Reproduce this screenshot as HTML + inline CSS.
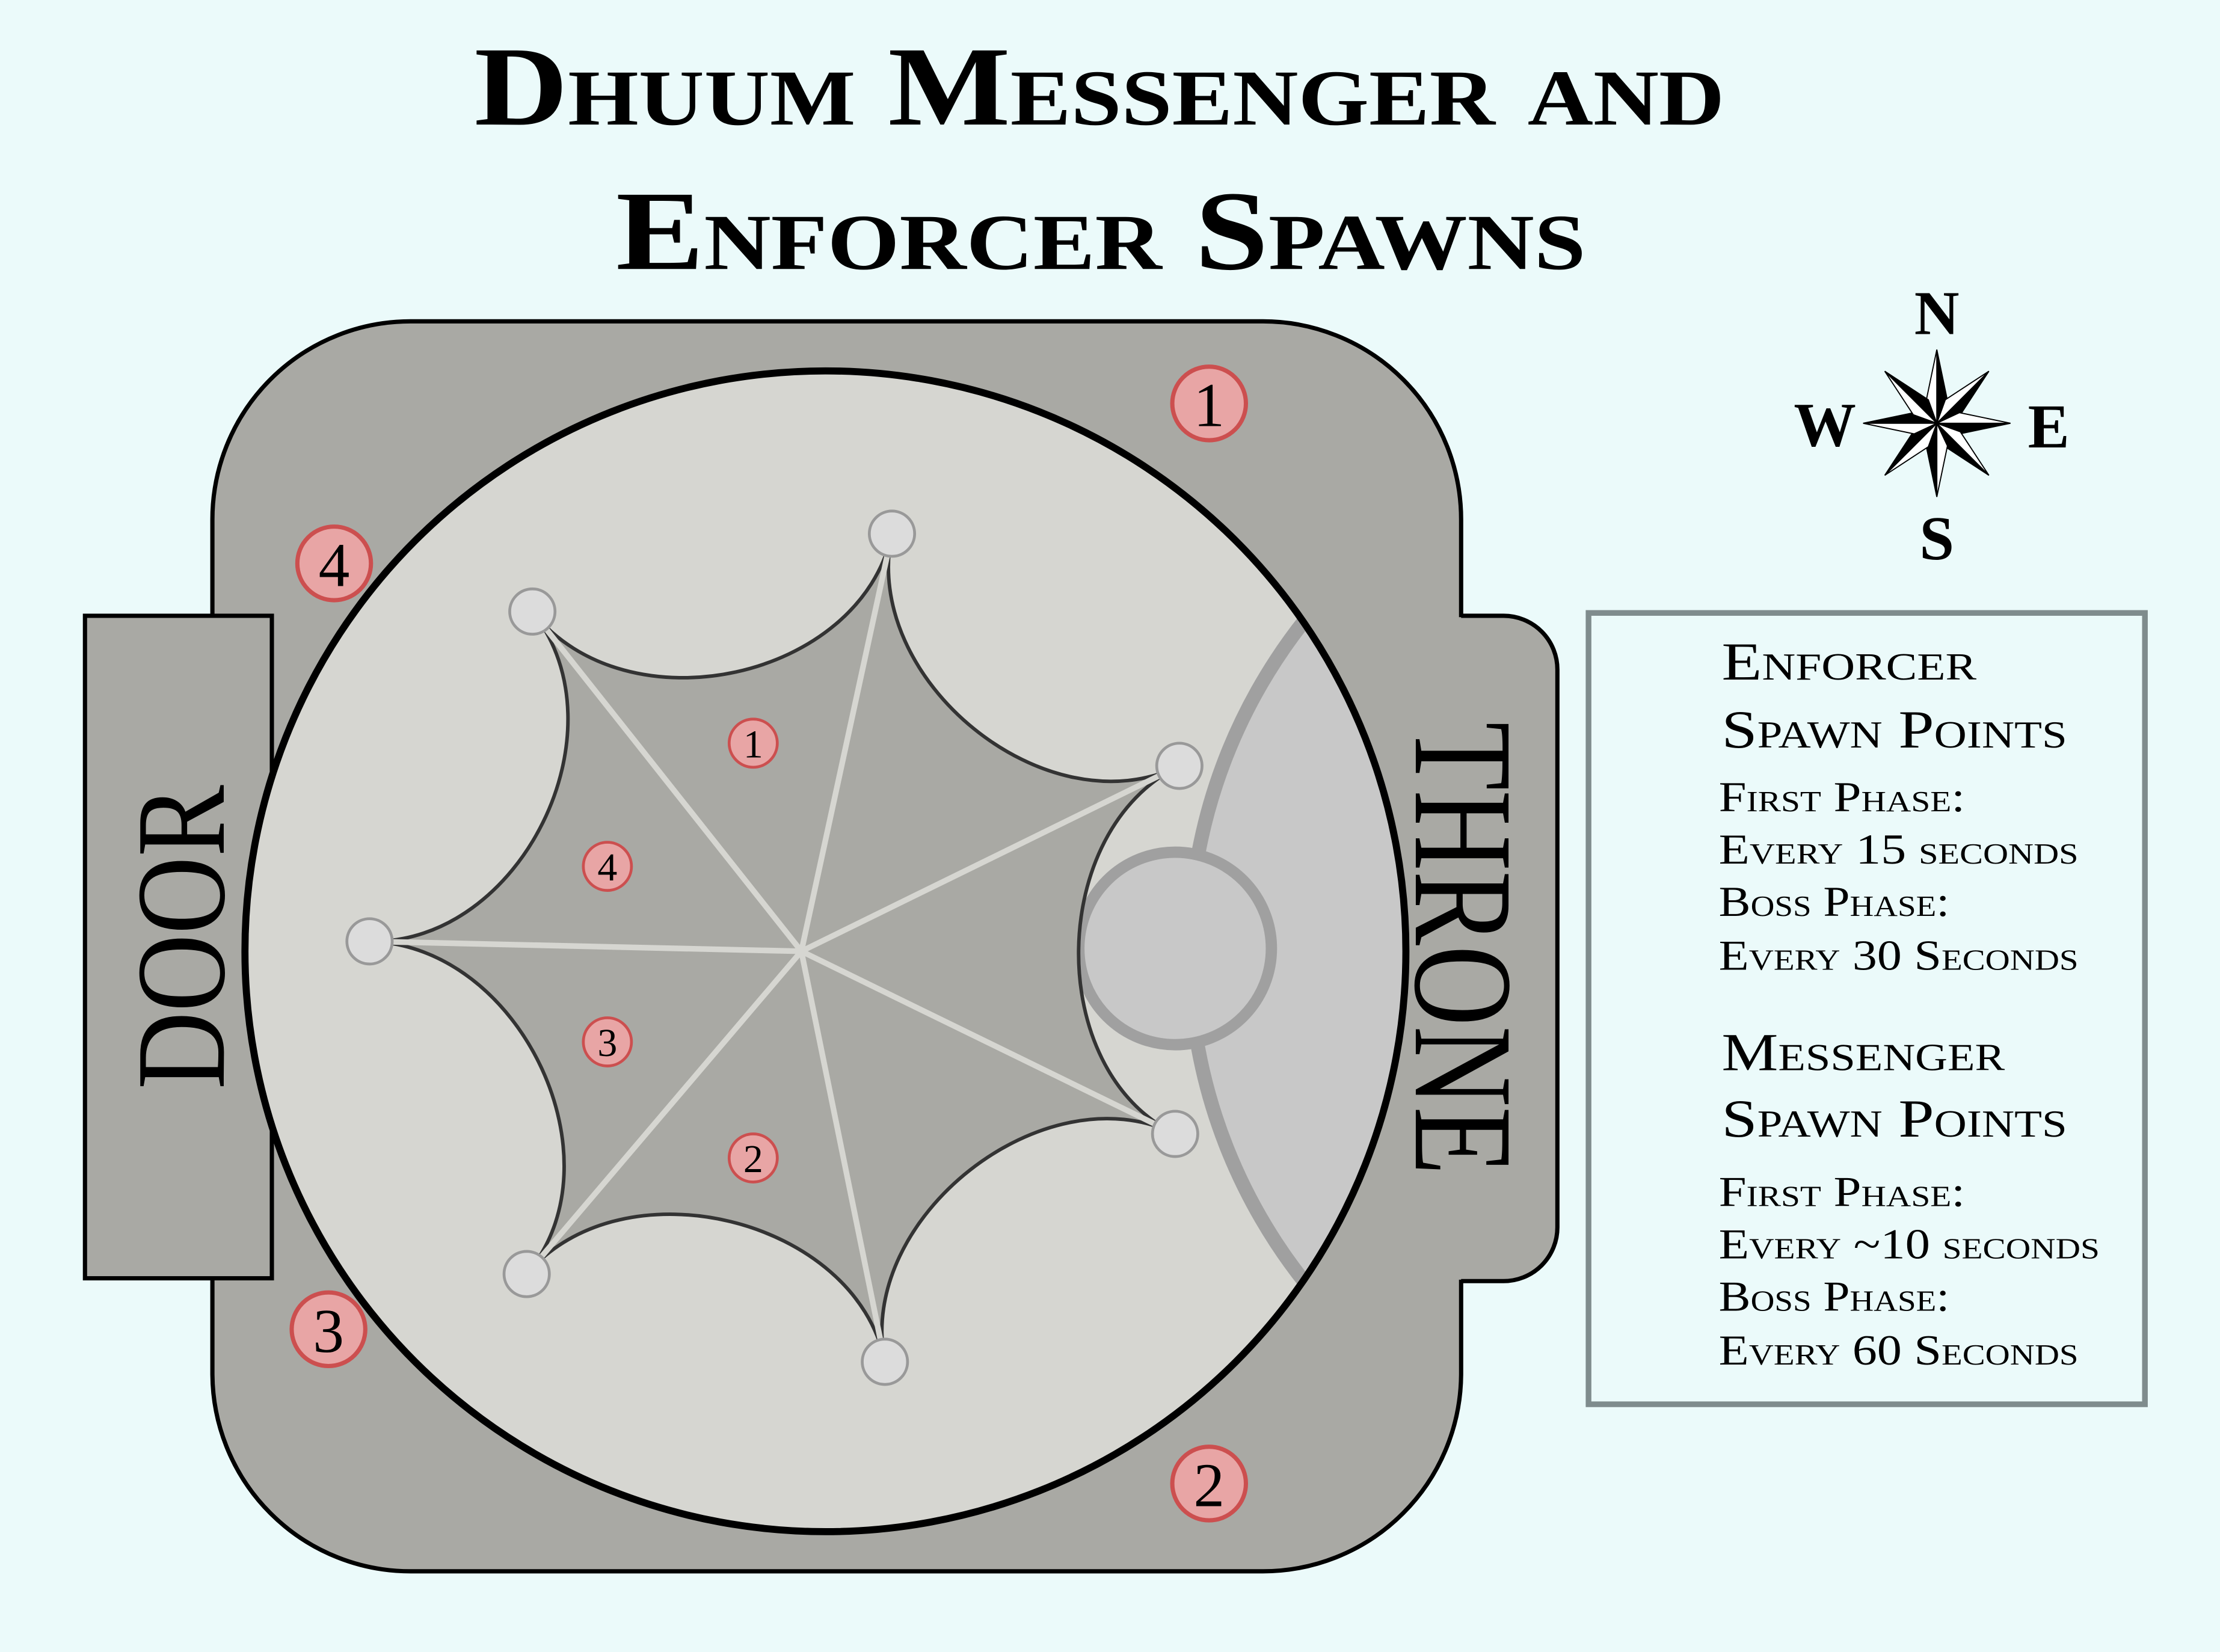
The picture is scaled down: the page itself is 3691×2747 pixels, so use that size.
<!DOCTYPE html>
<html><head><meta charset="utf-8"><style>
html,body{margin:0;padding:0;background:#ebfafa;}
svg{display:block;}
text{font-family:"Liberation Serif",serif;font-variant:small-caps;fill:#000;}
</style></head><body>
<svg width="3691" height="2747" viewBox="0 0 1568 1167" xmlns="http://www.w3.org/2000/svg">
<rect width="1568" height="1167" fill="#ebfafa"/>
<text x="335" y="88" font-size="80" font-weight="bold" textLength="883" lengthAdjust="spacingAndGlyphs">Dhuum Messenger and</text>
<text x="435" y="190" font-size="80" font-weight="bold" textLength="685" lengthAdjust="spacingAndGlyphs">Enforcer Spawns</text>

<rect x="150" y="227" width="882" height="883" rx="140" fill="#a9a9a4" stroke="#000" stroke-width="3"/>
<rect x="60" y="435" width="132" height="468" fill="#a9a9a4" stroke="#000" stroke-width="3"/>
<path d="M1028,436 H1062 A38,38 0 0 1 1100,474 V866 A38,38 0 0 1 1062,904 H1028 Z" fill="#a9a9a4"/>
<path d="M1032,435 H1062 A38,38 0 0 1 1100,473 V867 A38,38 0 0 1 1062,905 H1032" fill="none" stroke="#000" stroke-width="3"/>
<text transform="translate(158,662) rotate(-90)" font-size="90" text-anchor="middle" textLength="215" lengthAdjust="spacingAndGlyphs" style="font-variant:normal">DOOR</text>
<text transform="translate(1000,670) rotate(90)" font-size="100" text-anchor="middle" textLength="320" lengthAdjust="spacingAndGlyphs" style="font-variant:normal">THRONE</text>

<defs><clipPath id="cc"><circle cx="583" cy="672" r="410"/></clipPath></defs>
<circle cx="583" cy="672" r="410" fill="#d6d6d1"/>
<g clip-path="url(#cc)">
<circle cx="1216" cy="672" r="376" fill="#c8c8c8" stroke="#a0a0a0" stroke-width="10"/>
</g>
<circle cx="583" cy="672" r="410" fill="none" stroke="#000" stroke-width="5"/>
<circle cx="830" cy="670" r="68" fill="#c8c8c8" stroke="#a0a0a0" stroke-width="8"/>

<path d="M376,432 C442.5,516 607.6,480.3 630,377 C607.6,480.3 739.6,586.9 833,541 C739.6,586.9 737.6,755.9 830,801 C737.6,755.9 604.4,860.5 625,962 C604.4,860.5 439.9,820.2 372,900 C439.9,820.2 367.8,667.5 261,665 C367.8,667.5 442.5,516 376,432 Z" fill="#a9a9a4" stroke="#333" stroke-width="2.5" stroke-linejoin="round"/>
<g stroke="#d6d6d1" stroke-width="4">
<line x1="566" y1="672" x2="376" y2="432"/><line x1="566" y1="672" x2="630" y2="377"/>
<line x1="566" y1="672" x2="833" y2="541"/><line x1="566" y1="672" x2="830" y2="801"/>
<line x1="566" y1="672" x2="625" y2="962"/><line x1="566" y1="672" x2="372" y2="900"/>
<line x1="566" y1="672" x2="261" y2="665"/>
</g>
<g fill="#dcdcdc" stroke="#999" stroke-width="2">
<circle cx="376" cy="432" r="16"/><circle cx="630" cy="377" r="16"/><circle cx="833" cy="541" r="16"/>
<circle cx="830" cy="801" r="16"/><circle cx="625" cy="962" r="16"/><circle cx="372" cy="900" r="16"/>
<circle cx="261" cy="665" r="16"/>
</g>

<g fill="#e8a5a5" stroke="#cc4f4f" stroke-width="3">
<circle cx="854" cy="285" r="26"/><circle cx="236" cy="398" r="26"/>
<circle cx="232" cy="939" r="26"/><circle cx="854" cy="1048" r="26"/>
<circle cx="1166" cy="489" r="27"/>
</g>
<g fill="#e8a5a5" stroke="#cc4f4f" stroke-width="2">
<circle cx="532" cy="525" r="17"/><circle cx="429" cy="612" r="17"/>
<circle cx="429" cy="736" r="17"/><circle cx="532" cy="818" r="17"/>
<circle cx="1166" cy="766" r="17"/>
</g>
<g font-size="44" text-anchor="middle">
<text x="854" y="301">1</text><text x="236" y="414">4</text>
<text x="232" y="955">3</text><text x="854" y="1064">2</text>
</g>
<g font-size="28" text-anchor="middle">
<text x="532" y="535">1</text><text x="429" y="622">4</text>
<text x="429" y="746">3</text><text x="532" y="828">2</text>
</g>

<rect x="1122" y="433" width="393" height="559" fill="#ebfafa" stroke="#7f8c8d" stroke-width="4"/>
<g font-size="38">
<text x="1216" y="480" textLength="180" lengthAdjust="spacingAndGlyphs">Enforcer</text>
<text x="1216" y="528" textLength="244" lengthAdjust="spacingAndGlyphs">Spawn Points</text>
<text x="1216" y="756" textLength="200" lengthAdjust="spacingAndGlyphs">Messenger</text>
<text x="1216" y="803" textLength="244" lengthAdjust="spacingAndGlyphs">Spawn Points</text>
</g>
<g font-size="30">
<text x="1214" y="573" textLength="174" lengthAdjust="spacingAndGlyphs">First Phase:</text>
<text x="1214" y="610" textLength="254" lengthAdjust="spacingAndGlyphs">Every 15 seconds</text>
<text x="1214" y="647" textLength="163" lengthAdjust="spacingAndGlyphs">Boss Phase:</text>
<text x="1214" y="685" textLength="254" lengthAdjust="spacingAndGlyphs">Every 30 Seconds</text>
<text x="1214" y="852" textLength="174" lengthAdjust="spacingAndGlyphs">First Phase:</text>
<text x="1214" y="889" textLength="269" lengthAdjust="spacingAndGlyphs">Every ~10 seconds</text>
<text x="1214" y="926" textLength="163" lengthAdjust="spacingAndGlyphs">Boss Phase:</text>
<text x="1214" y="964" textLength="254" lengthAdjust="spacingAndGlyphs">Every 60 Seconds</text>
</g>

<g transform="translate(1368,299)" stroke="#000" stroke-width="0.8" stroke-linejoin="miter">
<g id="arm">
<polygon points="0,-52 0,0 7.5,-16" fill="#000"/>
<polygon points="0,-52 0,0 -7.5,-16" fill="#fff"/>
</g>
<use href="#arm" transform="rotate(45)"/><use href="#arm" transform="rotate(90)"/>
<use href="#arm" transform="rotate(135)"/><use href="#arm" transform="rotate(180)"/>
<use href="#arm" transform="rotate(225)"/><use href="#arm" transform="rotate(270)"/>
<use href="#arm" transform="rotate(315)"/>
</g>
<g font-size="44" font-weight="bold" text-anchor="middle" style="font-variant:normal">
<text x="1368" y="236">N</text><text x="1289" y="315">W</text>
<text x="1447" y="316">E</text><text x="1368" y="395">S</text>
</g>
</svg>
</body></html>
